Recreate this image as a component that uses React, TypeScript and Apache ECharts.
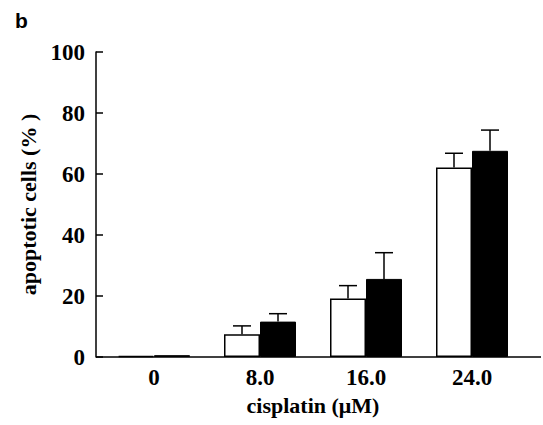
import React, { useEffect, useRef } from "react";
import * as echarts from "echarts";

const categories = ["0", "8.0", "16.0", "24.0"];
const whiteValues = [0.4, 7.5, 19.2, 62.1];
const whiteErrTop: (number | null)[] = [null, 10.2, 23.4, 66.8];
const blackValues = [0.6, 11.6, 25.6, 67.6];
const blackErrTop: (number | null)[] = [null, 14.2, 34.2, 74.4];
const yTicks = { min: 0, max: 100, interval: 20 };

const FONT = "'Liberation Serif', 'Times New Roman', serif";

function errorSeries(name: string, tops: (number | null)[], values: number[], dx: number) {
  return {
    type: "custom",
    name,
    silent: true,
    z: 5,
    data: tops
      .map((t, i) => (t == null ? null : [i, values[i], t]))
      .filter((d) => d != null),
    renderItem: (_params: any, api: any) => {
      const i = api.value(0);
      const base = api.coord([i, api.value(1)]);
      const top = api.coord([i, api.value(2)]);
      const x = base[0] + dx;
      const cap = 9;
      return {
        type: "group",
        children: [
          {
            type: "line",
            shape: { x1: x, y1: base[1], x2: x, y2: top[1] },
            style: { stroke: "#000", lineWidth: 1.5 },
          },
          {
            type: "line",
            shape: { x1: x - cap, y1: top[1], x2: x + cap, y2: top[1] },
            style: { stroke: "#000", lineWidth: 1.5 },
          },
        ],
      };
    },
  };
}

export default function App() {
  const ref = useRef<HTMLDivElement>(null);
  useEffect(() => {
    if (!ref.current) return;
    document.body.style.margin = "0";
    const chart = echarts.init(ref.current, null, { renderer: "svg" });
    chart.setOption({
      animation: false,
      backgroundColor: "#fff",
      grid: { left: 101, right: 18, top: 52, bottom: 68 },
      xAxis: {
        type: "category",
        data: categories,
        axisLine: { show: false },
        axisTick: { show: false },
        axisLabel: {
          margin: 9,
          fontFamily: FONT,
          fontWeight: "bold",
          fontSize: 23,
          color: "#000",
        },
        name: "cisplatin (μM)",
        nameLocation: "middle",
        nameGap: 37,
        nameTextStyle: {
          fontFamily: FONT,
          fontWeight: "bold",
          fontSize: 22,
          color: "#000",
        },
      },
      yAxis: {
        type: "value",
        min: yTicks.min,
        max: yTicks.max,
        interval: yTicks.interval,
        offset: 5,
        splitLine: { show: false },
        axisLine: { show: true, lineStyle: { color: "#000", width: 1.5 } },
        axisTick: { show: true, inside: true, length: 7, lineStyle: { color: "#000", width: 1.5 } },
        axisLabel: {
          margin: 11,
          fontFamily: FONT,
          fontWeight: "bold",
          fontSize: 23,
          color: "#000",
        },
        name: "apoptotic cells (% )",
        nameLocation: "middle",
        nameGap: 55,
        nameTextStyle: {
          fontFamily: FONT,
          fontWeight: "bold",
          fontSize: 22,
          color: "#000",
        },
      },
      graphic: [
        {
          type: "text",
          left: 15,
          top: 10,
          style: {
            text: "b",
            font: "bold 21px 'Liberation Sans', Arial, sans-serif",
            fill: "#000",
          },
        },
        {
          type: "line",
          shape: { x1: 96, y1: 357, x2: 541, y2: 357 },
          style: { stroke: "#000", lineWidth: 1.5 },
          z: 10,
        },
      ],
      series: [
        {
          type: "bar",
          name: "white",
          data: whiteValues,
          barWidth: 36,
          barGap: "0%",
          itemStyle: { color: "#fff", borderColor: "#000", borderWidth: 1.5 },
        },
        {
          type: "bar",
          name: "black",
          data: blackValues,
          barWidth: 36,
          barGap: "0%",
          itemStyle: { color: "#000", borderColor: "#000", borderWidth: 1 },
        },
        errorSeries("whiteErr", whiteErrTop, whiteValues, -18),
        errorSeries("blackErr", blackErrTop, blackValues, 18),
      ],
    });
    return () => chart.dispose();
  }, []);
  return <div ref={ref} style={{ width: 543, height: 425 }} />;
}
